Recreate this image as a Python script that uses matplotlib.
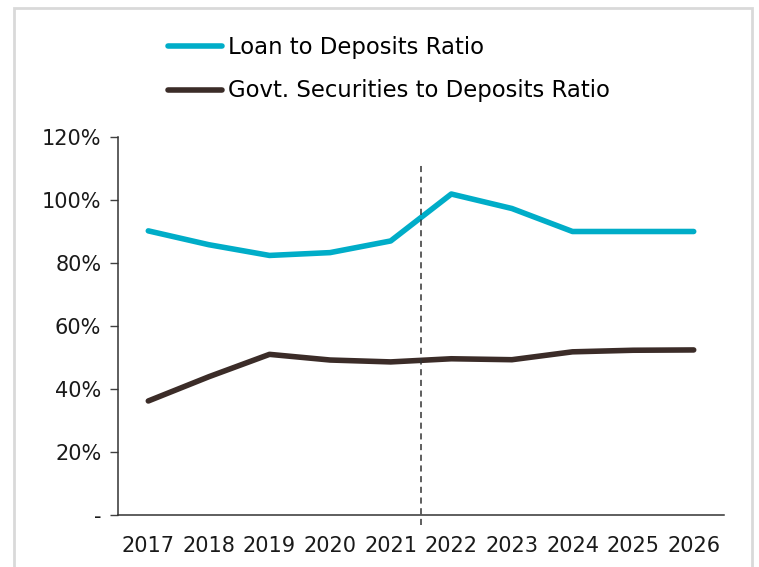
import matplotlib.pyplot as plt
from matplotlib.patches import Rectangle
from matplotlib.ticker import FuncFormatter

years = ['2017', '2018', '2019', '2020', '2021', '2022', '2023', '2024', '2025', '2026']
loan_to_deposits = [90.2, 85.8, 82.4, 83.3, 87.0, 101.9, 97.3, 90.0, 90.0, 90.0]
govt_sec_to_deposits = [36.2, 43.9, 51.0, 49.2, 48.6, 49.6, 49.3, 51.8, 52.3, 52.4]
labels = ['Loan to Deposits Ratio', 'Govt. Securities to Deposits Ratio']
split_year_pos = 4.5  # forecast split, between 2021 and 2022

plt.rcParams['font.family'] = ['DejaVu Sans']

fig = plt.figure(figsize=(7.59, 5.67), dpi=100)
ax = fig.add_axes([118 / 759, 1 - 515 / 567, (724 - 118) / 759, (515 - 137) / 567])

# light gray frame round the whole picture
fig.patches.append(Rectangle((14 / 759, -0.05), (752 - 14) / 759, 1.05 - 8 / 567,
                             transform=fig.transFigure, fill=False,
                             edgecolor='#d9d9d9', linewidth=2))

x = range(len(years))
ax.plot(x, loan_to_deposits, color='#00adc8', linewidth=4,
        solid_capstyle='round', label=labels[0])
ax.plot(x, govt_sec_to_deposits, color='#3b2c28', linewidth=4,
        solid_capstyle='round', label=labels[1])

ax.plot([split_year_pos, split_year_pos], [-3.2, 111.7], color='#333333',
        linewidth=1.1, linestyle=(0, (4, 3)), clip_on=False)

ax.set_xlim(-0.5, len(years) - 0.5)
ax.set_ylim(0, 120)
ax.set_xticks(list(x))
ax.set_xticklabels(years)
ax.set_yticks([0, 20, 40, 60, 80, 100, 120])
ax.yaxis.set_major_formatter(FuncFormatter(lambda v, p: '-' if v == 0 else f'{v:.0f}%'))

ax.tick_params(axis='x', length=0, pad=15, labelsize=15, colors='#1a1a1a')
ax.tick_params(axis='y', length=6, width=1, pad=6, labelsize=15,
               colors='#404040', labelcolor='#1a1a1a')

for s in ['top', 'right']:
    ax.spines[s].set_visible(False)
for s in ['left', 'bottom']:
    ax.spines[s].set_color('#333333')
    ax.spines[s].set_linewidth(1.1)

fig.legend(loc='upper left', bbox_to_anchor=(168 / 759, 1 - 36 / 567), frameon=False,
           fontsize=16.4, handlelength=2.35, handletextpad=0.27, labelspacing=0.9,
           borderaxespad=0, borderpad=0)

fig.savefig('out.png', dpi=100)
